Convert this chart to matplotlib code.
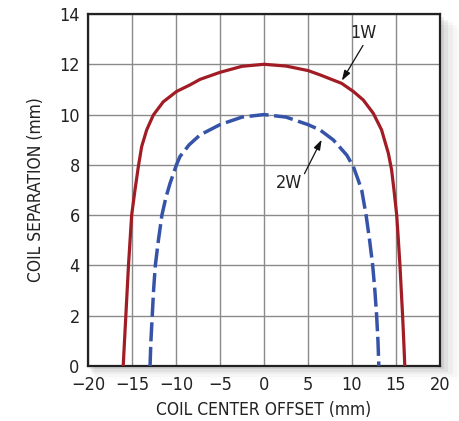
import matplotlib
matplotlib.use("Agg")
import matplotlib.pyplot as plt
from matplotlib.patches import Rectangle
from matplotlib import font_manager

# Data
x_1w = [-16.0, -15.85, -15.7, -15.55, -15.4, -15.22, -15.04, -14.85, -14.66, -14.28, -13.9,
        -13.33, -12.58, -11.44, -9.93, -8.41, -7.27, -5.0, -2.5, 0.0, 2.5, 5.0, 6.36, 8.83,
        10.15, 11.28, 12.42, 13.36, 14.13, 14.5, 14.77, 15.08, 15.27, 15.45, 15.6, 15.75, 15.88, 16.0]
y_1w = [0.0, 1.0, 2.0, 3.0, 4.0, 5.0, 6.0, 6.5, 7.0, 7.93, 8.73,
        9.39, 9.98, 10.51, 10.92, 11.18, 11.40, 11.68, 11.92, 12.0, 11.93, 11.75, 11.58, 11.24,
        10.92, 10.58, 10.05, 9.39, 8.46, 7.8, 7.0, 6.0, 5.0, 4.0, 3.0, 2.0, 1.0, 0.0]

x_2w = [-12.95, -12.85, -12.7, -12.55, -12.35, -12.0, -11.6, -11.15, -10.68, -9.95, -9.55,
        -8.5, -7.27, -5.0, -2.5, 0.0, 2.5, 5.0, 6.36, 7.88, 9.4, 10.15, 10.6, 11.1, 11.6,
        12.0, 12.35, 12.6, 12.8, 12.95, 13.05]
y_2w = [0.0, 1.0, 2.0, 3.0, 4.0, 5.0, 6.0, 6.7, 7.26, 8.0, 8.33,
        8.8, 9.19, 9.6, 9.9, 10.0, 9.9, 9.6, 9.39, 8.99, 8.39, 7.93, 7.5, 7.0, 6.0,
        5.0, 4.0, 3.0, 2.0, 1.0, 0.0]

x_ticks = [-20, -15, -10, -5, 0, 5, 10, 15, 20]
x_labels = ["\u221220", "\u221215", "\u221210", "\u22125", "0", "5", "10", "15", "20"]
y_ticks = [0, 2, 4, 6, 8, 10, 12, 14]

names = {f.name for f in font_manager.fontManager.ttflist}
if 'Liberation Sans Narrow' in names:
    fam = ['Liberation Sans Narrow', 'DejaVu Sans']
    stretch = 'normal'
else:
    fam = ['DejaVu Sans']
    stretch = 'condensed'
plt.rcParams['font.family'] = fam
plt.rcParams['font.stretch'] = stretch

FS = 12.5
TXT = '#222222'

fig = plt.figure(figsize=(4.6, 4.21), dpi=100)
fig.patch.set_facecolor('white')
L, R, T, B = 88, 440, 14, 366
ax = fig.add_axes([L/460, 1-B/421, (R-L)/460, (B-T)/421])
ax.set_zorder(2)

# soft drop shadow around axes
for i, a in enumerate([0.07, 0.05, 0.035, 0.022, 0.012]):
    d = (i + 1) * 2.8
    fig.add_artist(Rectangle(((L + d*0.5)/460, (1-B/421) - d/421), (R-L+d)/460, (B-T)/421,
                             transform=fig.transFigure, facecolor='black', alpha=a,
                             edgecolor='none', zorder=0))

ax.set_facecolor('white')
ax.plot(x_1w, y_1w, color='#A11C25', lw=2.3, solid_joinstyle='round', zorder=3)
ax.plot(x_2w, y_2w, color='#3553A8', lw=2.5, dashes=(5.5, 1.6), zorder=3)

ax.set_xlim(-20, 20)
ax.set_ylim(0, 14)
ax.set_xticks(x_ticks)
ax.set_xticklabels(x_labels)
ax.set_yticks(y_ticks)
ax.tick_params(length=0, labelsize=13, colors=TXT)
ax.tick_params(axis='x', pad=7)
ax.tick_params(axis='y', pad=6)
ax.grid(True, color='#8a8a8a', lw=1.0)
ax.set_axisbelow(True)
for s in ax.spines.values():
    s.set_color('#222222')
    s.set_linewidth(1.6)

ax.set_xlabel("COIL CENTER OFFSET (mm)", fontsize=FS, color=TXT, labelpad=5)
ax.set_ylabel("COIL SEPARATION (mm)", fontsize=FS, color=TXT, labelpad=10)

arrowprops = dict(arrowstyle='-|>,head_length=0.6,head_width=0.2', color='#111111', lw=0.9,
                  shrinkA=0, shrinkB=0)
ax.text(11.3, 13.25, "1W", fontsize=13, color=TXT, ha='center', va='center', zorder=5)
ax.annotate("", xy=(8.85, 11.35), xytext=(11.25, 12.75), arrowprops=arrowprops, zorder=5)
ax.text(2.8, 7.27, "2W", fontsize=13, color=TXT, ha='center', va='center', zorder=5)
ax.annotate("", xy=(6.55, 9.0), xytext=(4.6, 7.65), arrowprops=arrowprops, zorder=5)

fig.savefig("out.png", dpi=100, facecolor='white')
